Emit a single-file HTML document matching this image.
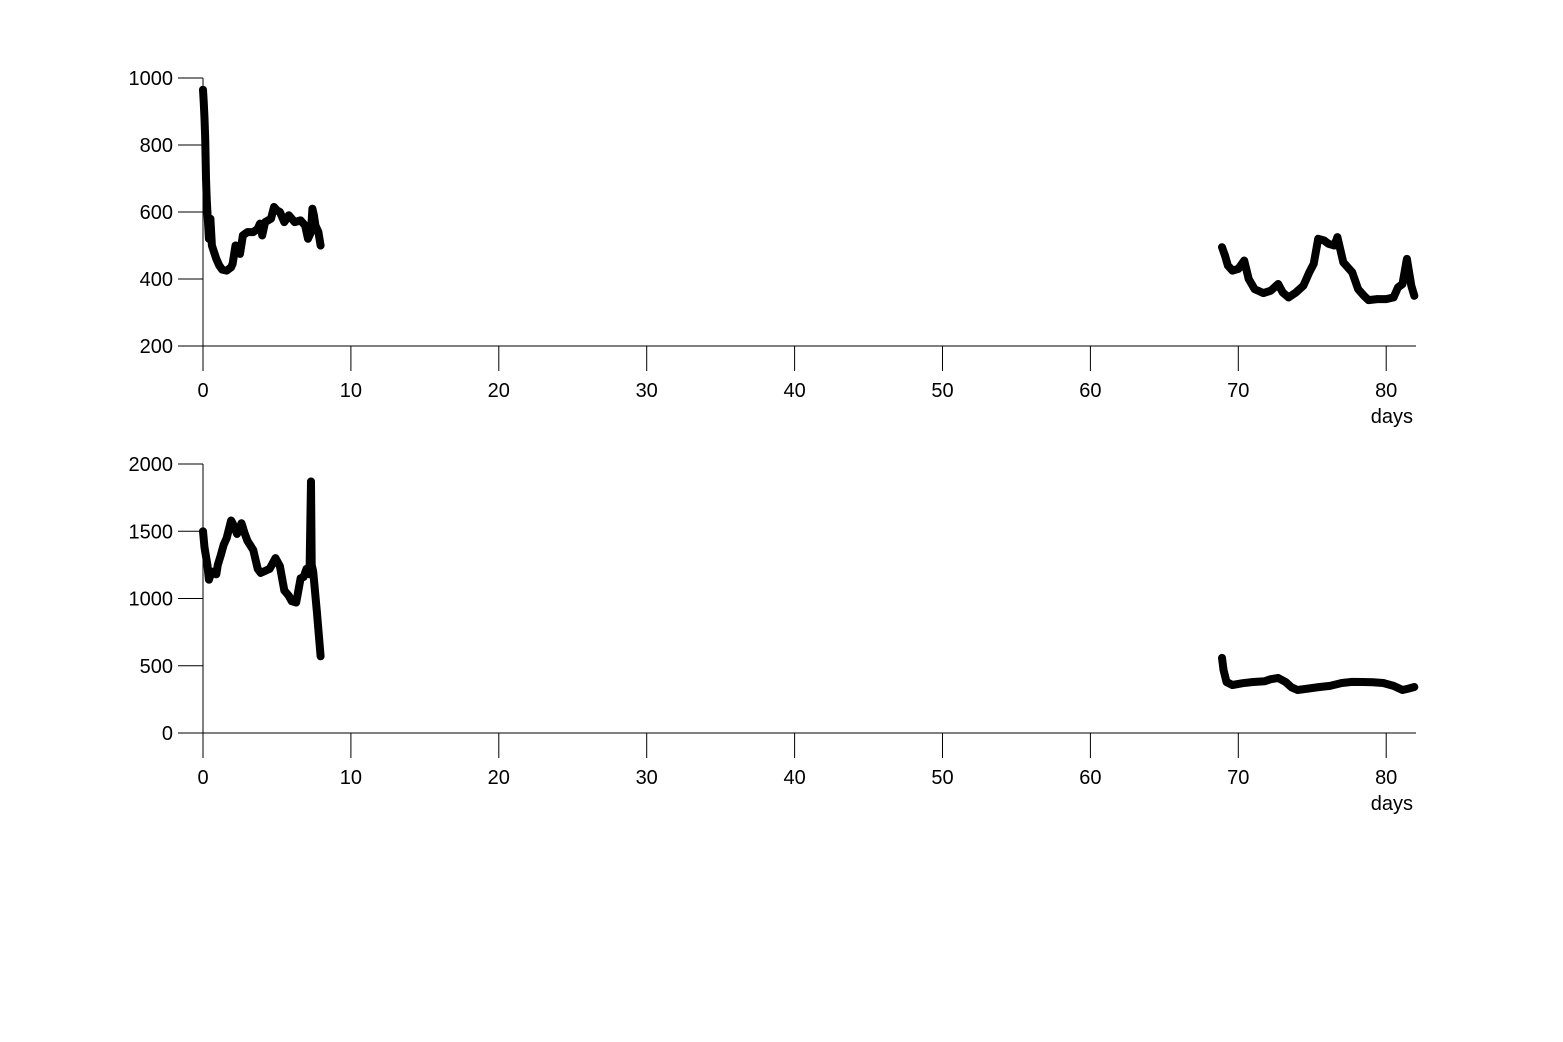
<!DOCTYPE html>
<html><head><meta charset="utf-8">
<style>
html,body{margin:0;padding:0;background:#fff;}
svg{display:block;font-family:"Liberation Sans",Helvetica,Arial,sans-serif;}
</style></head>
<body>
<svg id="chart" width="1563" height="1042" viewBox="0 0 1563 1042" xmlns="http://www.w3.org/2000/svg"></svg>
<script>
// ---- data ----
const xTicks = [0,10,20,30,40,50,60,70,80];
const topYTicks = [200,400,600,800,1000];
const botYTicks = [0,500,1000,1500,2000];
const topSeg1Days = [0,0.05,0.1,0.15,0.2,0.25,0.3,0.35,0.4,0.5,0.6,0.75,0.9,1.1,1.3,1.6,1.9,2.0,2.2,2.4,2.5,2.7,3.0,3.4,3.7,3.85,4.0,4.2,4.6,4.8,5.0,5.2,5.5,5.8,6.2,6.6,6.9,7.1,7.3,7.4,7.5,7.6,7.8,7.95];
const topSeg1Vals = [965,930,880,820,700,640,600,560,520,580,500,480,460,440,428,425,435,445,500,495,475,530,540,540,550,565,530,570,580,615,605,600,570,590,570,575,560,520,540,610,590,560,540,500];
const topSeg2Days = [68.9,69.1,69.3,69.6,70.0,70.4,70.7,71.1,71.7,72.2,72.7,73.0,73.4,73.9,74.4,74.8,75.1,75.4,75.8,76.1,76.5,76.7,77.1,77.7,78.1,78.5,78.8,79.4,80.0,80.5,80.8,81.1,81.4,81.7,81.9];
const topSeg2Vals = [495,470,440,425,430,455,400,370,358,365,385,360,345,360,380,420,445,520,515,505,500,525,450,420,370,350,337,340,340,345,375,385,460,380,350];
const botSeg1Days = [0,0.1,0.3,0.4,0.6,0.9,1.0,1.2,1.4,1.6,1.9,2.0,2.3,2.4,2.6,2.8,3.0,3.4,3.7,3.9,4.1,4.5,4.9,5.2,5.5,5.8,6.0,6.3,6.6,6.8,7.0,7.2,7.3,7.35,7.45,7.7,7.95];
const botSeg1Vals = [1500,1380,1250,1140,1200,1180,1250,1320,1400,1450,1580,1560,1480,1500,1560,1490,1430,1360,1220,1190,1200,1220,1300,1240,1060,1020,980,970,1150,1160,1220,1180,1870,1250,1200,900,570];
const botSeg2Days = [68.9,69.0,69.2,69.6,70.3,71.0,71.8,72.2,72.7,73.2,73.6,74.0,74.7,75.5,76.2,77.0,77.7,78.4,79.1,79.8,80.5,81.1,81.5,81.9];
const botSeg2Vals = [558,470,379,357,370,379,385,400,409,379,340,320,330,342,350,372,380,379,378,372,350,320,330,342];

const NS = "http://www.w3.org/2000/svg";
const svg = document.getElementById('chart');
function mk(tag, attrs, parent){ const e=document.createElementNS(NS,tag); for(const k in attrs) e.setAttribute(k,attrs[k]); (parent||svg).appendChild(e); return e; }
const xScale = d => 203 + d*14.79;

function panel(name, yTicks, yMin, yMax, yTop, yBot, segs){
  const g = mk('g',{});
  
  
  const yScale = v => yBot - (v-yMin)/(yMax-yMin)*(yBot-yTop);
  const xa = mk('line',{x1:178,y1:yBot,x2:1416,y2:yBot,stroke:'#000','stroke-width':1},g);
  
  
  const ya = mk('line',{x1:203,y1:yTop,x2:203,y2:yBot+25,stroke:'#000','stroke-width':1},g);
  
  
  yTicks.forEach(t=>{
    const y=yScale(t);
    mk('line',{x1:178,y1:y,x2:203,y2:y,stroke:'#000','stroke-width':1},g);
    const tx=mk('text',{x:173,y:y+7,'text-anchor':'end','font-size':20},g);
    tx.textContent=t;
    
    
  });
  xTicks.forEach(t=>{
    const x=xScale(t);
    mk('line',{x1:x,y1:yBot,x2:x,y2:yBot+25,stroke:'#000','stroke-width':1},g);
    const tx=mk('text',{x:x,y:yBot+51,'text-anchor':'middle','font-size':20},g);
    tx.textContent=t;
    
    
  });
  const lab=mk('text',{x:1413,y:yBot+77,'text-anchor':'end','font-size':20},g);
  lab.textContent='days';
  
  
  segs.forEach(([days,vals],i)=>{
    const pts = days.map((d,j)=>xScale(d).toFixed(1)+','+yScale(vals[j]).toFixed(1)).join(' ');
    const pl=mk('polyline',{points:pts,fill:'none',stroke:'#000','stroke-width':8,'stroke-linejoin':'round','stroke-linecap':'round'},g);
    
    
    days.forEach((d,j)=>{
      const c=mk('circle',{cx:xScale(d),cy:yScale(vals[j]),r:3.8,fill:'#000'},g);
      
      
    });
  });
}
panel('top-panel', topYTicks, 200, 1000, 78, 346, [[topSeg1Days,topSeg1Vals],[topSeg2Days,topSeg2Vals]]);
panel('bottom-panel', botYTicks, 0, 2000, 464, 733, [[botSeg1Days,botSeg1Vals],[botSeg2Days,botSeg2Vals]]);
</script>
</body></html>
